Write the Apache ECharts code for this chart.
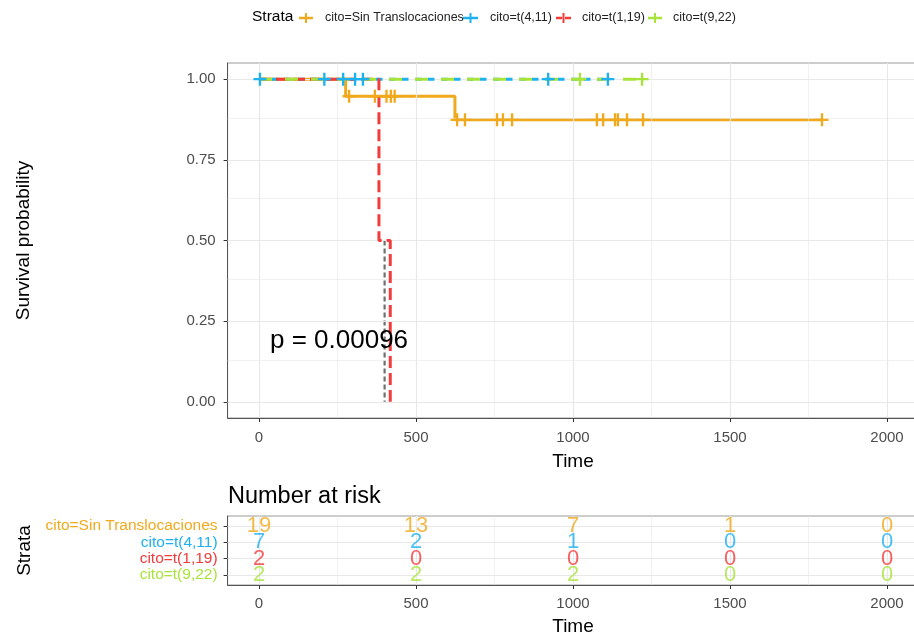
<!DOCTYPE html>
<html><head><meta charset="utf-8">
<script src="https://cdn.jsdelivr.net/npm/echarts@6/dist/echarts.min.js"></script>
<style>html,body{margin:0;padding:0;background:#fff}#c{width:914px;height:636px}</style>
</head><body><div id="c"></div>
<script>
// ---------- data ----------
const strataNames = ['cito=Sin Translocaciones', 'cito=t(4,11)', 'cito=t(1,19)', 'cito=t(9,22)'];
const strataColors = ['#F0A91C', '#1DB1EF', '#F23B3B', '#A8E339'];
const strataRows = [4, 3, 2, 1];

const xTicks = [0, 500, 1000, 1500, 2000];
const xMinor = [250, 750, 1250, 1750];
const yTicks = [0, 0.25, 0.5, 0.75, 1];
const yMinor = [0.125, 0.375, 0.625, 0.875];

// KM step curves (time, survival)
const sinTime = [0, 276, 624, 1793];
const sinSurv = [1, 0.947, 0.874, 0.874];
const t411Time = [0, 1111];
const t411Surv = [1, 1];
const t119Time = [0, 382, 418];
const t119Surv = [1, 0.5, 0];
const t922Time = [0, 1220];
const t922Surv = [1, 1];

// censor marks
const sinCensorTime = [287, 369, 406, 420, 432, 631, 656, 758, 777, 806, 1076, 1096, 1134, 1143, 1172, 1223, 1793];
const sinCensorSurv = [0.947, 0.947, 0.947, 0.947, 0.947, 0.874, 0.874, 0.874, 0.874, 0.874, 0.874, 0.874, 0.874, 0.874, 0.874, 0.874, 0.874];
const t411CensorTime = [3, 208, 268, 306, 331, 921, 1111];
const t411CensorSurv = [1, 1, 1, 1, 1, 1, 1];
const t922CensorTime = [1022, 1220];
const t922CensorSurv = [1, 1];

// median survival line
const medianTime = 400;
const medianSurv = 0.5;
const pValueText = 'p = 0.00096';

// number at risk
const riskTimes = [0, 500, 1000, 1500, 2000];
const riskSin = [19, 13, 7, 1, 0];
const riskT411 = [7, 2, 1, 0, 0];
const riskT119 = [2, 0, 0, 0, 0];
const riskT922 = [2, 2, 2, 0, 0];

// ---------- chart ----------
const FONT = '"Liberation Sans", Arial, sans-serif';
const pairs = (a, b) => a.map((v, i) => [v, b[i]]);
const plusPath = 'path://M4.1,0H5.9V4.1H10V5.9H5.9V10H4.1V5.9H0V4.1H4.1Z';

const chart = echarts.init(document.getElementById('c'), null, { renderer: 'canvas' });

function gridLines(xi, yi, xs, ys, width) {
  const data = [];
  xs.forEach(v => data.push({ xAxis: v }));
  ys.forEach(v => data.push({ yAxis: v }));
  return {
    type: 'line', xAxisIndex: xi, yAxisIndex: yi, data: [], silent: true, z: 1,
    markLine: {
      silent: true, symbol: ['none', 'none'], label: { show: false },
      lineStyle: { color: '#E8E8E8', type: 'solid', width: width },
      emphasis: { disabled: true },
      animation: false,
      data: data
    }
  };
}

function kmLine(times, surv, color, dash, z) {
  return {
    type: 'line', xAxisIndex: 0, yAxisIndex: 0, step: 'end', showSymbol: false, symbol: 'none',
    data: pairs(times, surv), z: z, silent: true,
    lineStyle: { color: color, width: 3, type: dash, cap: 'butt' }
  };
}
function censor(times, surv, color, z) {
  return {
    type: 'scatter', xAxisIndex: 0, yAxisIndex: 0, symbol: plusPath, symbolSize: 13,
    data: pairs(times, surv), z: z, silent: true, itemStyle: { color: color, opacity: 1 }
  };
}
function riskSeries(vals, row, color) {
  return {
    type: 'scatter', xAxisIndex: 1, yAxisIndex: 1, symbolSize: 1, z: 5, silent: true,
    itemStyle: { color: 'rgba(0,0,0,0)' },
    data: riskTimes.map((t, i) => [t, row, vals[i]]),
    labelLayout: { hideOverlap: false },
    label: {
      show: true, position: 'inside', offset: [0, 2], color: color, fontSize: 22, fontFamily: FONT,
      formatter: p => String(p.value[2])
    }
  };
}

const GL = 227.6, GW = 690.8;
const axisLabelStyle = { color: '#4D4D4D', fontSize: 15, fontFamily: FONT };
const numFmt = v => String(v);

const option = {
  animation: false,
  backgroundColor: '#ffffff',
  grid: [
    { left: GL, top: 63, width: GW, height: 355, show: true, borderColor: '#9A9A9A', borderWidth: 1, backgroundColor: '#fff', outerBoundsMode: 'none', containLabel: false },
    { left: GL, top: 516, width: GW, height: 69, show: true, borderColor: '#9A9A9A', borderWidth: 1, backgroundColor: '#fff', outerBoundsMode: 'none', containLabel: false }
  ],
  xAxis: [
    {
      type: 'value', gridIndex: 0, min: -100, max: 2100,
      axisLine: { show: true, onZero: false, lineStyle: { color: '#555', width: 1 } },
      axisTick: { show: true, length: 4, customValues: xTicks, lineStyle: { color: '#333' } },
      axisLabel: Object.assign({ customValues: xTicks, margin: 12, formatter: numFmt, hideOverlap: false }, axisLabelStyle),
      splitLine: { show: false },
      name: 'Time', nameLocation: 'middle', nameGap: 34,
      nameTextStyle: { color: '#000', fontSize: 19, fontFamily: FONT }
    },
    {
      type: 'value', gridIndex: 1, min: -100, max: 2100,
      axisLine: { show: true, onZero: false, lineStyle: { color: '#555', width: 1 } },
      axisTick: { show: true, length: 4, customValues: xTicks, lineStyle: { color: '#333' } },
      axisLabel: Object.assign({ customValues: xTicks, margin: 11, formatter: numFmt, hideOverlap: false }, axisLabelStyle),
      splitLine: { show: false },
      name: 'Time', nameLocation: 'middle', nameGap: 32,
      nameTextStyle: { color: '#000', fontSize: 19, fontFamily: FONT }
    }
  ],
  yAxis: [
    {
      type: 'value', gridIndex: 0, min: -0.05, max: 1.05,
      axisLine: { show: true, onZero: false, lineStyle: { color: '#555', width: 1 } },
      axisTick: { show: true, length: 4, customValues: yTicks, lineStyle: { color: '#333' } },
      axisLabel: Object.assign({ customValues: yTicks, margin: 12, formatter: v => v.toFixed(2), hideOverlap: false }, axisLabelStyle),
      splitLine: { show: false },
      name: 'Survival probability', nameLocation: 'middle', nameGap: 194,
      nameTextStyle: { color: '#000', fontSize: 19, fontFamily: FONT }
    },
    {
      type: 'value', gridIndex: 1, min: 0.4, max: 4.6,
      axisLine: { show: true, onZero: false, lineStyle: { color: '#555', width: 1 } },
      axisTick: { show: true, length: 4, customValues: strataRows, lineStyle: { color: '#333' } },
      axisLabel: {
        customValues: strataRows, margin: 10, fontSize: 15.5, fontFamily: FONT, lineHeight: 12, hideOverlap: false,
        formatter: v => { const i = strataRows.indexOf(Math.round(v)); return '{s' + i + '|' + strataNames[i] + '}'; },
        rich: {
          s0: { color: strataColors[0], fontSize: 15.5, fontFamily: FONT, lineHeight: 12 },
          s1: { color: strataColors[1], fontSize: 15.5, fontFamily: FONT, lineHeight: 12 },
          s2: { color: strataColors[2], fontSize: 15.5, fontFamily: FONT, lineHeight: 12 },
          s3: { color: strataColors[3], fontSize: 15.5, fontFamily: FONT, lineHeight: 12 }
        }
      },
      splitLine: { show: false },
      name: 'Strata', nameLocation: 'middle', nameGap: 192,
      nameTextStyle: { color: '#000', fontSize: 19, fontFamily: FONT }
    }
  ],
  series: [
    gridLines(0, 0, xMinor, yMinor, 0.6),
    gridLines(0, 0, xTicks, yTicks, 1.2),
    gridLines(1, 1, xMinor, [], 0.6),
    gridLines(1, 1, xTicks, strataRows, 1.2),
    // median lines
    {
      type: 'line', xAxisIndex: 0, yAxisIndex: 0, symbol: 'none', z: 3, silent: true,
      data: [[0, medianSurv], [medianTime, medianSurv]],
      lineStyle: { color: '#111', width: 1.2, type: [5, 4] }
    },
    {
      type: 'line', xAxisIndex: 0, yAxisIndex: 0, symbol: 'none', z: 3, silent: true,
      data: [[medianTime, medianSurv], [medianTime, 0]],
      lineStyle: { color: '#6E6E6E', width: 2.2, type: [5, 3] }
    },
    kmLine(sinTime, sinSurv, strataColors[0], 'solid', 4),
    kmLine(t411Time, t411Surv, strataColors[1], [6.5, 6.5], 5),
    kmLine(t119Time, t119Surv, strataColors[2], [12, 5], 6),
    kmLine(t922Time, t922Surv, strataColors[3], [13, 13], 7),
    censor(sinCensorTime, sinCensorSurv, strataColors[0], 8),
    censor(t411CensorTime, t411CensorSurv, strataColors[1], 8),
    censor(t922CensorTime, t922CensorSurv, strataColors[3], 8),
    riskSeries(riskSin, strataRows[0], strataColors[0]),
    riskSeries(riskT411, strataRows[1], strataColors[1]),
    riskSeries(riskT119, strataRows[2], strataColors[2]),
    riskSeries(riskT922, strataRows[3], strataColors[3])
  ],
  graphic: [
    { type: 'text', left: 270, top: 328, z: 20, style: { text: pValueText, fill: '#000', font: '26px ' + FONT } },
    { type: 'text', left: 228, top: 485, z: 20, style: { text: 'Number at risk', fill: '#000', font: '23.5px ' + FONT } },
    // legend
    { type: 'text', left: 252, top: 9, z: 20, style: { text: 'Strata', fill: '#000', font: '15.5px ' + FONT } },
    { type: 'line', z: 20, shape: { x1: 299, y1: 18, x2: 313, y2: 18 }, style: { stroke: strataColors[0], lineWidth: 2.5 } },
    { type: 'line', z: 20, shape: { x1: 306, y1: 13, x2: 306, y2: 23 }, style: { stroke: strataColors[0], lineWidth: 2 } },
    { type: 'text', left: 325, top: 11, z: 20, style: { text: strataNames[0], fill: '#222', font: '12.5px ' + FONT } },
    { type: 'line', z: 20, shape: { x1: 463, y1: 18, x2: 478, y2: 18 }, style: { stroke: strataColors[1], lineWidth: 2.5 } },
    { type: 'line', z: 20, shape: { x1: 470.5, y1: 13, x2: 470.5, y2: 23 }, style: { stroke: strataColors[1], lineWidth: 2 } },
    { type: 'text', left: 490, top: 11, z: 20, style: { text: strataNames[1], fill: '#222', font: '12.5px ' + FONT } },
    { type: 'line', z: 20, shape: { x1: 556, y1: 18, x2: 571, y2: 18 }, style: { stroke: strataColors[2], lineWidth: 2.5, lineDash: [6, 3] } },
    { type: 'line', z: 20, shape: { x1: 563.5, y1: 13, x2: 563.5, y2: 23 }, style: { stroke: strataColors[2], lineWidth: 2 } },
    { type: 'text', left: 582, top: 11, z: 20, style: { text: strataNames[2], fill: '#222', font: '12.5px ' + FONT } },
    { type: 'line', z: 20, shape: { x1: 648, y1: 18, x2: 662, y2: 18 }, style: { stroke: strataColors[3], lineWidth: 2.5 } },
    { type: 'line', z: 20, shape: { x1: 655, y1: 13, x2: 655, y2: 23 }, style: { stroke: strataColors[3], lineWidth: 2 } },
    { type: 'text', left: 673, top: 11, z: 20, style: { text: strataNames[3], fill: '#222', font: '12.5px ' + FONT } }
  ]
};
chart.setOption(option);
</script>
</body></html>
